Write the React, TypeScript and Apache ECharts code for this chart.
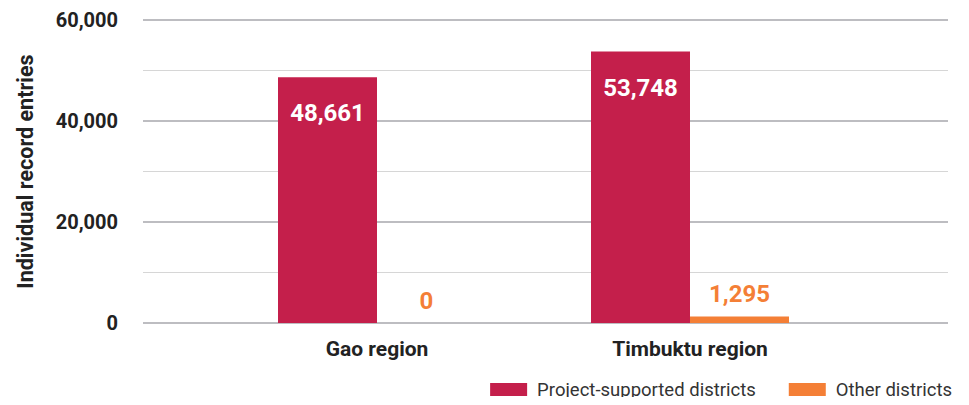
import React, { useEffect, useRef } from "react";
import * as echarts from "echarts";

const categories = ["Gao region", "Timbuktu region"];
const projectSupported = [48661, 53748];
const otherDistricts = [0, 1295];
const seriesNames = ["Project-supported districts", "Other districts"];
const yTitle = "Individual record entries";

const RED = "#c41f4b";
const ORANGE = "#f47f36";
const FONT = "Roboto";

export default function App() {
  const ref = useRef<HTMLDivElement>(null);
  useEffect(() => {
    const chart = echarts.init(ref.current!, undefined, { renderer: "svg" });
    const fmt = (v: number) => v.toLocaleString("en-US");
    chart.setOption({
      animation: false,
      textStyle: { fontFamily: FONT },
      grid: [
        { left: 143, right: 21, top: 20, bottom: 82 },
        { left: 220.5, right: 122.5, top: 20, bottom: 82 },
      ],
      legend: {
        right: 12,
        top: 375,
        itemWidth: 37,
        itemHeight: 13,
        itemGap: 33,
        icon: "rect",
        textStyle: { fontSize: 18.5, color: "#333", fontFamily: FONT, padding: [0, 0, 0, 5] },
        data: seriesNames,
      },
      xAxis: [
        { type: "category", gridIndex: 0, data: ["a"], show: false },
        {
          type: "category",
          gridIndex: 1,
          data: categories,
          axisLine: { show: false },
          axisTick: { show: false },
          axisLabel: { fontSize: 21, fontWeight: "bold", color: "#222", margin: 15, fontFamily: FONT },
        },
      ],
      yAxis: [
        {
          type: "value",
          gridIndex: 0,
          min: 0,
          max: 60000,
          interval: 20000,
          name: yTitle,
          nameLocation: "middle",
          nameGap: 107,
          nameTextStyle: { fontSize: 21.5, fontWeight: "bold", color: "#222", fontFamily: FONT },
          axisLine: { show: false },
          axisTick: { show: false },
          axisLabel: { fontSize: 20, fontWeight: "bold", color: "#222", margin: 25, formatter: (v: number) => fmt(v), fontFamily: FONT },
          splitLine: { show: true, lineStyle: { color: "#bdbdc1", width: 2 } },
          minorTick: { show: false, splitNumber: 2 },
          minorSplitLine: { show: true, lineStyle: { color: "#d6d6d6", width: 1 } },
        },
        {
          type: "value",
          gridIndex: 1,
          min: 0,
          max: 60000,
          interval: 20000,
          show: false,
          splitLine: { show: false },
        },
      ],
      series: [
        {
          name: seriesNames[0],
          type: "bar",
          xAxisIndex: 1,
          yAxisIndex: 1,
          data: projectSupported,
          barWidth: 99,
          barGap: "0%",
          itemStyle: { color: RED },
          label: {
            show: true,
            position: "insideTop",
            distance: 24,
            color: "#fff",
            fontSize: 24,
            fontWeight: "bold",
            fontFamily: FONT,
            formatter: (p: any) => fmt(p.value),
          },
        },
        {
          name: seriesNames[1],
          type: "bar",
          xAxisIndex: 1,
          yAxisIndex: 1,
          data: otherDistricts,
          barWidth: 99,
          barGap: "0%",
          itemStyle: { color: ORANGE },
          label: {
            show: true,
            position: "top",
            distance: 10,
            color: ORANGE,
            fontSize: 24,
            fontWeight: "bold",
            fontFamily: FONT,
            formatter: (p: any) => fmt(p.value),
          },
        },
      ],
    });
    return () => chart.dispose();
  }, []);
  return <div ref={ref} style={{ width: 969, height: 405, margin: -8 }} />;
}
